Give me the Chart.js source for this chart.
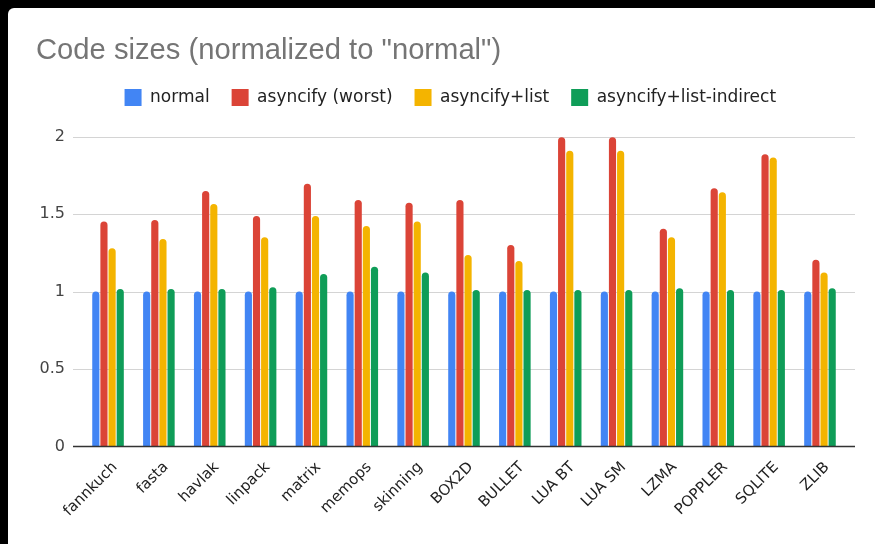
<!DOCTYPE html>
<html><head><meta charset="utf-8">
<script src="https://cdn.jsdelivr.net/npm/chart.js@4/dist/chart.umd.min.js"></script>
<style>
html,body{margin:0;padding:0;background:#000;width:875px;height:544px;overflow:hidden}
#card{position:absolute;left:8px;top:8px;width:867px;height:536px;background:#fff;border-top-left-radius:6px;overflow:hidden}
canvas{display:block}
</style></head><body>
<div id="card"><canvas id="c" width="867" height="536"></canvas></div>
<script>
const categories = ['fannkuch','fasta','havlak','linpack','matrix','memops','skinning','BOX2D','BULLET','LUA BT','LUA SM','LZMA','POPPLER','SQLITE','ZLIB'];
const normal = [1,1,1,1,1,1,1,1,1,1,1,1,1,1,1];
const asyncifyWorst = [1.452,1.463,1.65,1.488,1.697,1.592,1.574,1.592,1.301,1.996,1.996,1.406,1.667,1.886,1.205];
const asyncifyList = [1.28,1.34,1.566,1.351,1.488,1.424,1.452,1.237,1.198,1.91,1.91,1.351,1.641,1.865,1.123];
const asyncifyListIndirect = [1.017,1.017,1.017,1.028,1.114,1.161,1.123,1.011,1.011,1.011,1.011,1.022,1.011,1.011,1.022];
const seriesNames = ['normal','asyncify (worst)','asyncify+list','asyncify+list-indirect'];
const seriesColors = ['#4285F4','#DB4437','#F4B400','#0F9D58'];
const yTicks = [0,0.5,1,1.5,2];

const FONT = "'DejaVu Sans', sans-serif";
const TITLE_FONT = "'Liberation Sans', Arial, sans-serif";

const gridPlugin = {
  id: 'gridPlugin',
  beforeDatasetsDraw(chart) {
    const {ctx, chartArea: a, scales: {y}} = chart;
    const ext = 9.6;
    ctx.save();
    ctx.lineWidth = 1;
    ctx.strokeStyle = '#d4d4d4';
    y.ticks.forEach(t => {
      if (t.value === 0) return;
      const py = Math.round(y.getPixelForValue(t.value)) + 0.5;
      ctx.beginPath(); ctx.moveTo(a.left - ext, py); ctx.lineTo(a.right + ext, py); ctx.stroke();
    });
    ctx.restore();
  },
  afterDatasetsDraw(chart) {
    const {ctx, chartArea: a, scales: {y}} = chart;
    const ext = 9.6;
    const py = y.getPixelForValue(0);
    ctx.save();
    ctx.lineWidth = 1.5;
    ctx.strokeStyle = '#333';
    ctx.beginPath(); ctx.moveTo(a.left - ext, py); ctx.lineTo(a.right + ext, py); ctx.stroke();
    ctx.restore();
  }
};

const legendSpace = {
  id: 'legendSpace',
  beforeLayout(chart) {
    const lg = chart.legend;
    if (lg && !lg._patched) {
      const f = lg.fit;
      lg.fit = function() { f.call(this); this.height += 20.7; };
      lg._patched = true;
    }
  },
  afterLayout(chart) {
    chart.legend.left += 9.6;
    chart.legend.right += 9.6;
  }
};

const valuesBySeries = [normal, asyncifyWorst, asyncifyList, asyncifyListIndirect];

new Chart(document.getElementById('c'), {
  type: 'bar',
  data: {
    labels: categories,
    datasets: seriesNames.map((n, i) => ({
      label: n,
      data: valuesBySeries[i],
      backgroundColor: seriesColors[i],
      borderWidth: 0,
      borderRadius: 4,
      borderSkipped: 'start',
      barPercentage: 0.88,
      categoryPercentage: 0.64
    }))
  },
  options: {
    responsive: false,
    animation: false,
    devicePixelRatio: 1,
    layout: { padding: { left: 28, right: 29.6, top: 0, bottom: 0 } },
    plugins: {
      title: {
        display: true,
        text: 'Code sizes (normalized to "normal")',
        align: 'start',
        color: '#757575',
        font: { family: TITLE_FONT, size: 29.2, weight: 'normal', lineHeight: 1.0 },
        padding: { top: 28.6, bottom: 1.2 }
      },
      legend: {
        display: true,
        position: 'top',
        align: 'center',
        labels: {
          boxWidth: 17,
          boxHeight: 17,
          padding: 22,
          color: '#222',
          font: { family: FONT, size: 17 }
        }
      },
      tooltip: { enabled: false }
    },
    scales: {
      x: {
        grid: { display: false, drawTicks: false },
        border: { display: false },
        ticks: {
          autoSkip: false,
          minRotation: 45,
          maxRotation: 45,
          color: '#222',
          padding: 12,
          labelOffset: 7,
          font: { family: FONT, size: 15 }
        },
        afterFit(s) { s.height = 97.5; }
      },
      y: {
        min: 0,
        max: 2,
        grid: { display: false, drawTicks: false },
        border: { display: false },
        afterBuildTicks(s) { s.ticks = yTicks.map(v => ({ value: v })); },
        ticks: {
          color: '#444',
          padding: 17.6,
          font: { family: FONT, size: 16 },
          callback: v => String(v)
        },
        afterFit(s) { s.width = 46.6; }
      }
    }
  },
  plugins: [gridPlugin, legendSpace]
});
</script>
</body></html>
